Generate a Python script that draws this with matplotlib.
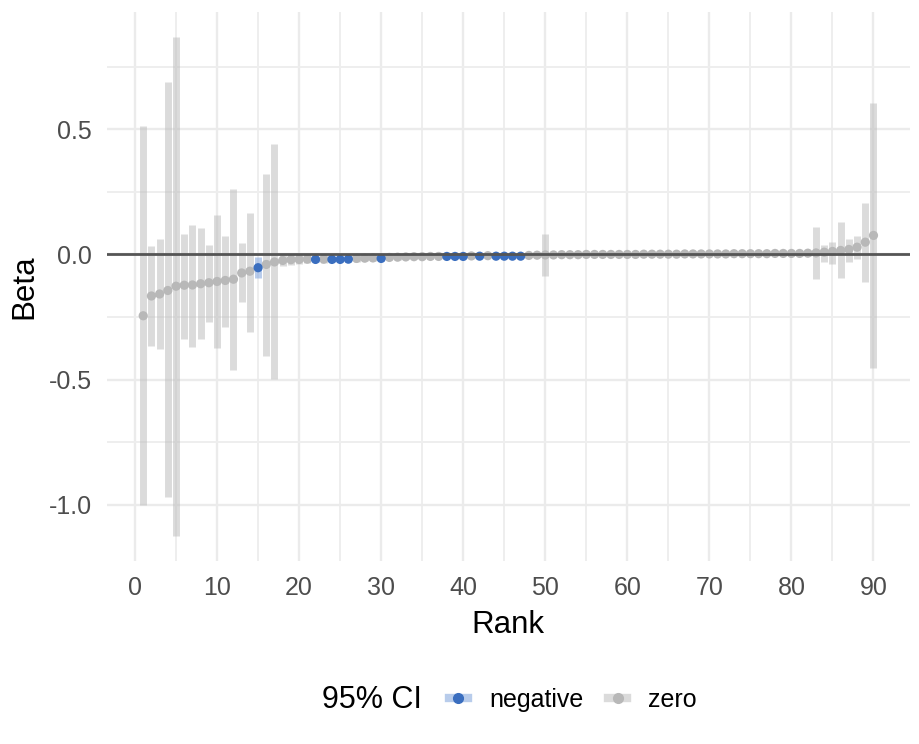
import matplotlib
matplotlib.use("Agg")
import matplotlib.pyplot as plt
from matplotlib.lines import Line2D
from matplotlib.legend_handler import HandlerTuple
import numpy as np

plt.rcParams['font.family'] = ['Liberation Sans', 'DejaVu Sans']
plt.rcParams['axes.unicode_minus'] = False

# values
rank = list(range(1, 91))

beta = [-0.245, -0.166, -0.158, -0.144, -0.127, -0.123, -0.122, -0.117, -0.113, -0.108,
        -0.104, -0.099, -0.074, -0.067, -0.053, -0.040, -0.030, -0.024, -0.021, -0.020,
        -0.019, -0.020, -0.019, -0.020, -0.020, -0.019, -0.016, -0.015, -0.014, -0.016,
        -0.012, -0.011, -0.010, -0.009, -0.009, -0.008, -0.008, -0.008, -0.008, -0.008,
        -0.006, -0.007, -0.005, -0.007, -0.007, -0.007, -0.007, -0.004, -0.003, -0.002,
        -0.002, -0.001, -0.001, -0.001, 0.000, 0.000, 0.000, 0.000, 0.000, 0.000,
        0.000, 0.001, 0.001, 0.001, 0.001, 0.001, 0.002, 0.002, 0.002, 0.002,
        0.002, 0.002, 0.003, 0.003, 0.003, 0.003, 0.003, 0.004, 0.004, 0.004,
        0.004, 0.005, 0.006, 0.009, 0.012, 0.016, 0.020, 0.029, 0.049, 0.076]

lower = [-1.000, -0.366, -0.376, -0.970, -1.125, -0.338, -0.368, -0.338, -0.268, -0.372,
         -0.288, -0.462, -0.190, -0.309, -0.095, -0.405, -0.497, -0.048, -0.042, -0.040,
         -0.036, -0.030, -0.036, -0.030, -0.030, -0.029, -0.030, -0.028, -0.027, -0.026,
         -0.022, -0.021, -0.020, -0.019, -0.018, -0.017, -0.016, -0.014, -0.014, -0.013,
         -0.014, -0.012, -0.012, -0.011, -0.011, -0.011, -0.011, -0.010, -0.010, -0.088,
         -0.009, -0.008, -0.008, -0.008, -0.007, -0.007, -0.007, -0.007, -0.007, -0.007,
         -0.007, -0.006, -0.006, -0.006, -0.006, -0.006, -0.005, -0.005, -0.005, -0.005,
         -0.005, -0.005, -0.004, -0.004, -0.004, -0.004, -0.004, -0.004, -0.004, -0.004,
         -0.005, -0.006, -0.100, -0.030, -0.037, -0.096, -0.030, -0.017, -0.110, -0.455]

upper = [0.515, 0.033, 0.061, 0.690, 0.870, 0.080, 0.116, 0.104, 0.037, 0.156,
         0.073, 0.261, 0.044, 0.167, -0.012, 0.323, 0.440, 0.001, 0.001, 0.002,
         0.002, -0.009, 0.001, -0.009, -0.009, -0.008, 0.001, 0.001, 0.001, -0.005,
         0.001, 0.001, 0.001, 0.001, 0.001, 0.001, 0.001, -0.002, -0.002, -0.002,
         0.001, -0.002, 0.001, -0.002, -0.002, -0.002, -0.002, 0.002, 0.003, 0.080,
         0.005, 0.006, 0.006, 0.006, 0.007, 0.007, 0.007, 0.007, 0.007, 0.007,
         0.007, 0.008, 0.008, 0.008, 0.008, 0.008, 0.009, 0.009, 0.009, 0.009,
         0.009, 0.009, 0.010, 0.010, 0.010, 0.010, 0.010, 0.012, 0.012, 0.012,
         0.013, 0.015, 0.108, 0.036, 0.048, 0.129, 0.060, 0.075, 0.205, 0.604]

negative_ranks = [15, 22, 24, 25, 26, 30, 38, 39, 40, 42, 44, 45, 46, 47]
ci = ['negative' if r in negative_ranks else 'zero' for r in rank]

colors = {'negative': '#3A6EBF', 'zero': '#B8B8B8'}
bar_colors = {'negative': '#7FA3DC', 'zero': '#BEBEBE'}

fig = plt.figure(figsize=(9.19, 7.44), dpi=100)
ax = fig.add_axes([106.7 / 919, 1 - 561 / 744, (910 - 106.7) / 919, (561 - 11.7) / 744])

rank_arr = np.array(rank)
beta_arr = np.array(beta)
lo_arr = np.array(lower)
hi_arr = np.array(upper)
cat_arr = np.array(ci)

for cat in ['zero', 'negative']:
    m = cat_arr == cat
    ax.vlines(rank_arr[m], lo_arr[m], hi_arr[m], color=bar_colors[cat],
              alpha=0.55, linewidth=5, zorder=2)
for cat in ['zero', 'negative']:
    m = cat_arr == cat
    ax.scatter(rank_arr[m], beta_arr[m], s=44, color=colors[cat],
               edgecolors='none', zorder=3)

ax.axhline(0, color='#555555', linewidth=2, zorder=4)

ax.set_xlim(1 - 89 * 0.05, 90 + 89 * 0.05)
ymin, ymax = min(lower), max(upper)
ax.set_ylim(ymin - (ymax - ymin) * 0.05, ymax + (ymax - ymin) * 0.05)

ax.set_xticks(np.arange(0, 91, 10))
ax.set_xticks(np.arange(5, 91, 10), minor=True)
ax.set_yticks([-1.0, -0.5, 0.0, 0.5])
ax.set_yticklabels(['-1.0', '-0.5', '0.0', '0.5'])
ax.set_yticks([-0.75, -0.25, 0.25, 0.75], minor=True)

ax.grid(True, which='major', color='#EBEBEB', linewidth=1.7, zorder=0)
ax.grid(True, which='minor', color='#EEEEEE', linewidth=1.4, zorder=0)
ax.set_axisbelow(True)
for s in ax.spines.values():
    s.set_visible(False)
ax.tick_params(which='both', length=0)
ax.tick_params(axis='x', labelsize=18, labelcolor='#4D4D4D', pad=11)
ax.tick_params(axis='y', labelsize=18, labelcolor='#4D4D4D', pad=10.5)

ax.set_xlabel('Rank', fontsize=22.5, color='black', labelpad=7)
ax.set_ylabel('Beta', fontsize=22.5, color='black', labelpad=7)

# legend at the bottom
fig.text(322 / 919, 1 - 700 / 744, '95% CI', fontsize=22, va='center', ha='left')
handles = []
for cat in ['negative', 'zero']:
    bar = Line2D([], [], color=bar_colors[cat], alpha=0.55, linewidth=6)
    pt = Line2D([], [], marker='o', linestyle='', color=colors[cat], markersize=7)
    handles.append((bar, pt))
fig.legend(handles, ['negative', 'zero'], handler_map={tuple: HandlerTuple(ndivide=1)},
           loc='center left', bbox_to_anchor=(449 / 919, 1 - 700 / 744), ncol=2,
           frameon=False, fontsize=18, handlelength=0.75, handletextpad=0.85,
           columnspacing=1.0, borderpad=0, borderaxespad=0)

fig.savefig('out.png', dpi=100)
